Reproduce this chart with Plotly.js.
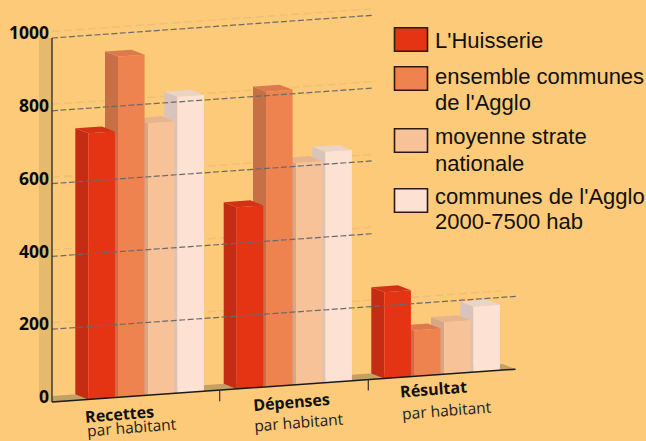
<!DOCTYPE html>
<html><head><meta charset="utf-8">
<script src="https://cdn.plot.ly/plotly-3.0.1.min.js"></script>
<style>html,body{margin:0;padding:0;background:#FCCA78}#c{width:646px;height:441px}</style>
</head><body><div id="c"></div>
<script>
// ----- data -----
const categories = ['Recettes', 'Dépenses', 'Résultat'];
const subLabel = 'par habitant';
const huisserie = [731, 499, 237];
const ensemble  = [936, 811, 126];
const strate    = [747, 609, 143];
const agglo     = [814, 634, 180];
const tickValues = [0, 200, 400, 600, 800, 1000];
const seriesNames = [["L'Huisserie"], ["ensemble communes","de l'Agglo"], ["moyenne strate","nationale"], ["communes de l'Agglo","2000-7500 hab"]];

// ----- styles and layout constants -----
const W = 646, H = 441, X0 = 52, Y0 = 402, K = 0.364, SLOPE = 0.0708;
const SHEAR = SLOPE / K, DX = -13, DV = 6 / K, BARW = 26.6;
const series = [huisserie, ensemble, strate, agglo];
const starts = [[88.3,118,148,177.3],[236.7,266,296,325.3],[384.3,414,444,473.3]];
const palette = [
  {front:'#E43414', side:'#C42C14', top:'#D23216'},
  {front:'#EF8350', side:'#C76F45', top:'#DC7A4C'},
  {front:'#F8C299', side:'#D8A787', top:'#E7B58D'},
  {front:'#FDE2D4', side:'#D9C4BD', top:'#EAD4C8'}
];
const yOf = (x, v) => v + SHEAR * (x - X0);
const px = y => 1 - y / H;
const traces = [];
function poly(pts, color) {
  traces.push({type:'scatter', mode:'none', fill:'toself', fillcolor:color, hoverinfo:'skip', showlegend:false,
    x: pts.map(p => p[0]), y: pts.map(p => yOf(p[0], p[1]))});
}
function line(pts, color, width, dash) {
  traces.push({type:'scatter', mode:'lines', hoverinfo:'skip', showlegend:false,
    line:{color, width, dash: dash || 'solid', simplify:false},
    x: pts.map(p => p[0]), y: pts.map(p => yOf(p[0], p[1]))});
}
const LIGHT = 6.5 / K, ends = {200:[516,502], 400:[372,372], 600:[372,372], 800:[372,372], 1000:[372,372]};

// back light grid
tickValues.slice(1).forEach(v => line([[X0, v + LIGHT],[ends[v][1], v + LIGHT]], '#EBC176', 1.4, '8px,4px'));
// side wall (flat top, in screen terms)
traces.push({type:'scatter', mode:'none', fill:'toself', fillcolor:'#E5BA6C', hoverinfo:'skip', showlegend:false,
  x:[39,X0,X0,39], y:[(Y0-38)/K,(Y0-38)/K,0,yOf(39,DV)]});
// floor
poly([[X0,0],[515.5,0],[515.5+DX,DV],[X0,DV]], '#C3A063');
// bars, rightmost first so that nearer bars cover farther ones
categories.forEach((c, g) => {
  for (let s = 3; s >= 0; s--) {
    const x = starts[g][s], v = series[s][g], col = palette[s];
    poly([[x,0],[x,v],[x+DX,v+DV],[x+DX,DV]], col.side);
    poly([[x,v],[x+BARW,v],[x+BARW+DX,v+DV],[x+DX,v+DV]], col.top);
    poly([[x,0],[x+BARW,0],[x+BARW,v],[x,v]], col.front);
  }
});
// front dashed grid
tickValues.slice(1).forEach(v => line([[X0,v],[ends[v][0],v]], '#6A6A68', 1.2, '6px,2.5px'));
// axes
traces.push({type:'scatter', mode:'lines', hoverinfo:'skip', showlegend:false, line:{color:'#333333', width:1.4},
  x:[X0,X0], y:[0,(Y0-38)/K]});
line([[X0,0],[515.5,0]], '#1a1a1a', 1.5);
[219.7, 368.3].forEach(x => line([[x,0],[x,-11/K]], '#333333', 1.2));

// text
const annotations = [];
const labelPos = [[119.3,413.5,132,427],[291.5,401.5,299,421.5],[433.7,388.5,447,410]];
categories.forEach((c, i) => {
  const p = labelPos[i];
  annotations.push({xref:'x', yref:'paper', x:p[0], y:px(p[1]), text:'<b>'+c+'</b>', showarrow:false, textangle:-4.5,
    xanchor:'center', yanchor:'middle', font:{family:'"Open Sans"', size:16, color:'#111'}});
  annotations.push({xref:'x', yref:'paper', x:p[2], y:px(p[3]), text:subLabel, showarrow:false, textangle:-4.5,
    xanchor:'center', yanchor:'middle', font:{family:'"Open Sans"', size:15.5, color:'#222'}});
});
const swatchY = [27.7, 66.7, 128.7, 188.7];
const legendTextY = [[40],[76.7,103],[136.7,163],[196.7,221.7]];
const shapes = [];
seriesNames.forEach((lines, i) => {
  shapes.push({type:'rect', xref:'x', yref:'paper', x0:394.5, x1:427.5, y0:px(swatchY[i]), y1:px(swatchY[i]+23.5),
    fillcolor:palette[i].front, line:{color:'#2a1a10', width:1.6}});
  lines.forEach((t, j) => annotations.push({xref:'x', yref:'paper', x:432.5, y:px(legendTextY[i][j]), text:t, showarrow:false, align:'left',
    xanchor:'left', yanchor:'middle', font:{family:'"Liberation Sans"', size:22, color:'#111'}}));
});

Plotly.newPlot('c', traces, {
  width:W, height:H, margin:{l:0,r:0,t:0,b:0,pad:0}, showlegend:false, hovermode:false,
  paper_bgcolor:'#FCCA78', plot_bgcolor:'#FCCA78',
  xaxis:{range:[0,W], visible:false, fixedrange:true},
  yaxis:{range:[(Y0-H)/K, Y0/K], anchor:'free', position:X0/W, tickvals:tickValues, ticktext:tickValues.map(String),
    showgrid:false, zeroline:false, showline:false, ticks:'', fixedrange:true, ticklabelstandoff:3, ticklabelshift:-5,
    tickfont:{family:'"Open Sans"', size:17.5, weight:700, color:'#0a0a0a'}},
  shapes, annotations
}, {displayModeBar:false, staticPlot:true});
</script></body></html>
